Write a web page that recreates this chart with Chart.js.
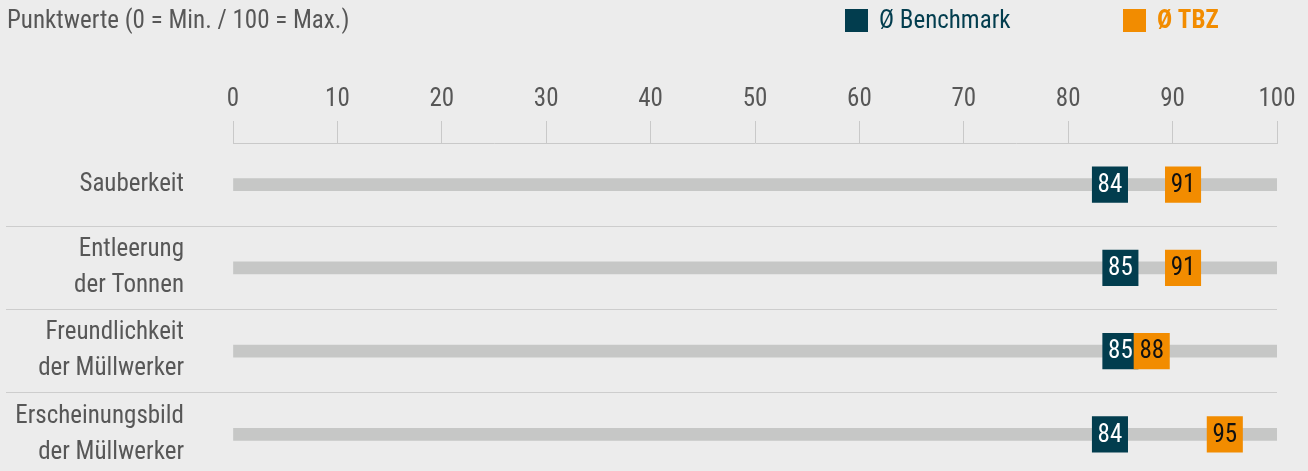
<!DOCTYPE html>
<html lang="de">
<head>
<meta charset="utf-8">
<title>Punktwerte</title>
<script src="https://cdn.jsdelivr.net/npm/chart.js@4.4.1/dist/chart.umd.min.js"></script>
<style>
  html, body { margin: 0; padding: 0; background: #ececec; overflow: hidden; }
  #wrap { width: 1308px; height: 471px; overflow: hidden; }
  canvas { display: block; }
</style>
</head>
<body>
<div id="wrap"><canvas id="chart" width="1308" height="476"></canvas></div>
<script>
// Rating categories (multi-line labels as arrays)
const categories = [
  'Sauberkeit',
  ['Entleerung', 'der Tonnen'],
  ['Freundlichkeit', 'der Müllwerker'],
  ['Erscheinungsbild', 'der Müllwerker']
];
const seriesNames = ['Ø Benchmark', 'Ø TBZ'];
const benchmarkValues = [84, 85, 85, 84];
const tbzValues = [91, 91, 88, 95];
// full-scale background track for every row
const trackValues = [100, 100, 100, 100];
const axisMin = 0;
const axisMax = 100;
const axisStep = 10;
const chartTitle = 'Punktwerte (0 = Min. / 100 = Max.)';

const FONT = "'Roboto Condensed', 'DejaVu Sans Condensed', sans-serif";
const FONT_SIZE = 25;
const TEAL = '#023d4e';
const ORANGE = '#f28c00';
const TEXT = '#575757';
const RULE = '#c9c9c9';

Chart.defaults.font.family = FONT;
Chart.defaults.font.size = FONT_SIZE;
Chart.defaults.color = TEXT;

// Writes each value inside its square marker
const valueBoxLabels = {
  id: 'valueBoxLabels',
  afterDatasetsDraw(chart) {
    const ctx = chart.ctx;
    ctx.save();
    ctx.font = FONT_SIZE + 'px ' + FONT;
    ctx.textAlign = 'center';
    ctx.textBaseline = 'middle';
    chart.data.datasets.forEach((ds, di) => {
      if (!ds.valueColor) return;
      const meta = chart.getDatasetMeta(di);
      meta.data.forEach((pt, i) => {
        ctx.fillStyle = ds.valueColor;
        ctx.fillText(String(ds.data[i]), pt.x, pt.y + 1);
      });
    });
    ctx.restore();
  }
};

// Legend row in the header, right of the title
const headerLegend = {
  id: 'headerLegend',
  afterDraw(chart, args, opts) {
    const ctx = chart.ctx;
    ctx.save();
    ctx.textAlign = 'left';
    ctx.textBaseline = 'middle';
    opts.items.forEach((item) => {
      const ds = chart.data.datasets.find((d) => d.label === item.label);
      if (!ds) return;
      ctx.fillStyle = ds.pointBackgroundColor;
      ctx.fillRect(item.x, opts.y, opts.box, opts.box);
      ctx.font = (item.bold ? 'bold ' : '') + FONT_SIZE + 'px ' + FONT;
      ctx.fillText(ds.label, item.x + opts.box + opts.gap, opts.y + opts.box / 2 + 1);
    });
    ctx.restore();
  }
};

new Chart(document.getElementById('chart'), {
  type: 'bar',
  data: {
    labels: categories,
    datasets: [
      {
        type: 'line',
        label: seriesNames[1],
        data: tbzValues,
        showLine: false,
        pointStyle: 'rect',
        pointRadius: 25.5,
        pointHoverRadius: 25.5,
        pointBorderWidth: 0,
        pointBackgroundColor: ORANGE,
        valueColor: '#111111',
        clip: false,
        order: 1
      },
      {
        type: 'line',
        label: seriesNames[0],
        data: benchmarkValues,
        showLine: false,
        pointStyle: 'rect',
        pointRadius: 25.5,
        pointHoverRadius: 25.5,
        pointBorderWidth: 0,
        pointBackgroundColor: TEAL,
        valueColor: '#ffffff',
        clip: false,
        order: 2
      },
      {
        type: 'bar',
        label: 'Skala',
        data: trackValues,
        backgroundColor: '#c6c7c6',
        borderWidth: 0,
        barThickness: 12,
        order: 3
      }
    ]
  },
  options: {
    indexAxis: 'y',
    responsive: false,
    animation: false,
    events: [],
    layout: { autoPadding: false, padding: { left: 7, right: 31, top: 0, bottom: 0 } },
    plugins: {
      legend: { display: false },
      tooltip: { enabled: false },
      title: {
        display: true,
        text: chartTitle,
        align: 'start',
        color: TEXT,
        font: { size: FONT_SIZE, weight: 'normal', lineHeight: 1.2 },
        padding: { top: 7, bottom: 0 }
      },
      headerLegend: {
        y: 9,
        box: 23,
        gap: 11,
        items: [
          { label: seriesNames[0], x: 845, bold: false },
          { label: seriesNames[1], x: 1123, bold: true }
        ]
      }
    },
    scales: {
      x: {
        type: 'linear',
        position: 'top',
        min: axisMin,
        max: axisMax,
        ticks: { stepSize: axisStep, padding: 6, color: TEXT, font: { size: FONT_SIZE } },
        grid: { drawOnChartArea: false, drawTicks: true, tickLength: 22, color: RULE, lineWidth: 1 },
        border: { display: true, color: RULE, width: 1 },
        afterFit(scale) { scale.height = 106; }
      },
      y: {
        type: 'category',
        offset: true,
        ticks: {
          autoSkip: false,
          padding: -178,
          color: TEXT,
          font: { size: FONT_SIZE, lineHeight: 1.44 }
        },
        grid: {
          offset: true,
          drawOnChartArea: true,
          drawTicks: true,
          tickLength: 227,
          lineWidth: 1,
          color: (c) => (c.index === undefined || c.index === 0) ? 'rgba(0,0,0,0)' : '#cdcdcd'
        },
        border: { display: false },
        afterFit(scale) { scale.width = 226; }
      }
    }
  },
  plugins: [valueBoxLabels, headerLegend]
});
</script>
</body>
</html>
